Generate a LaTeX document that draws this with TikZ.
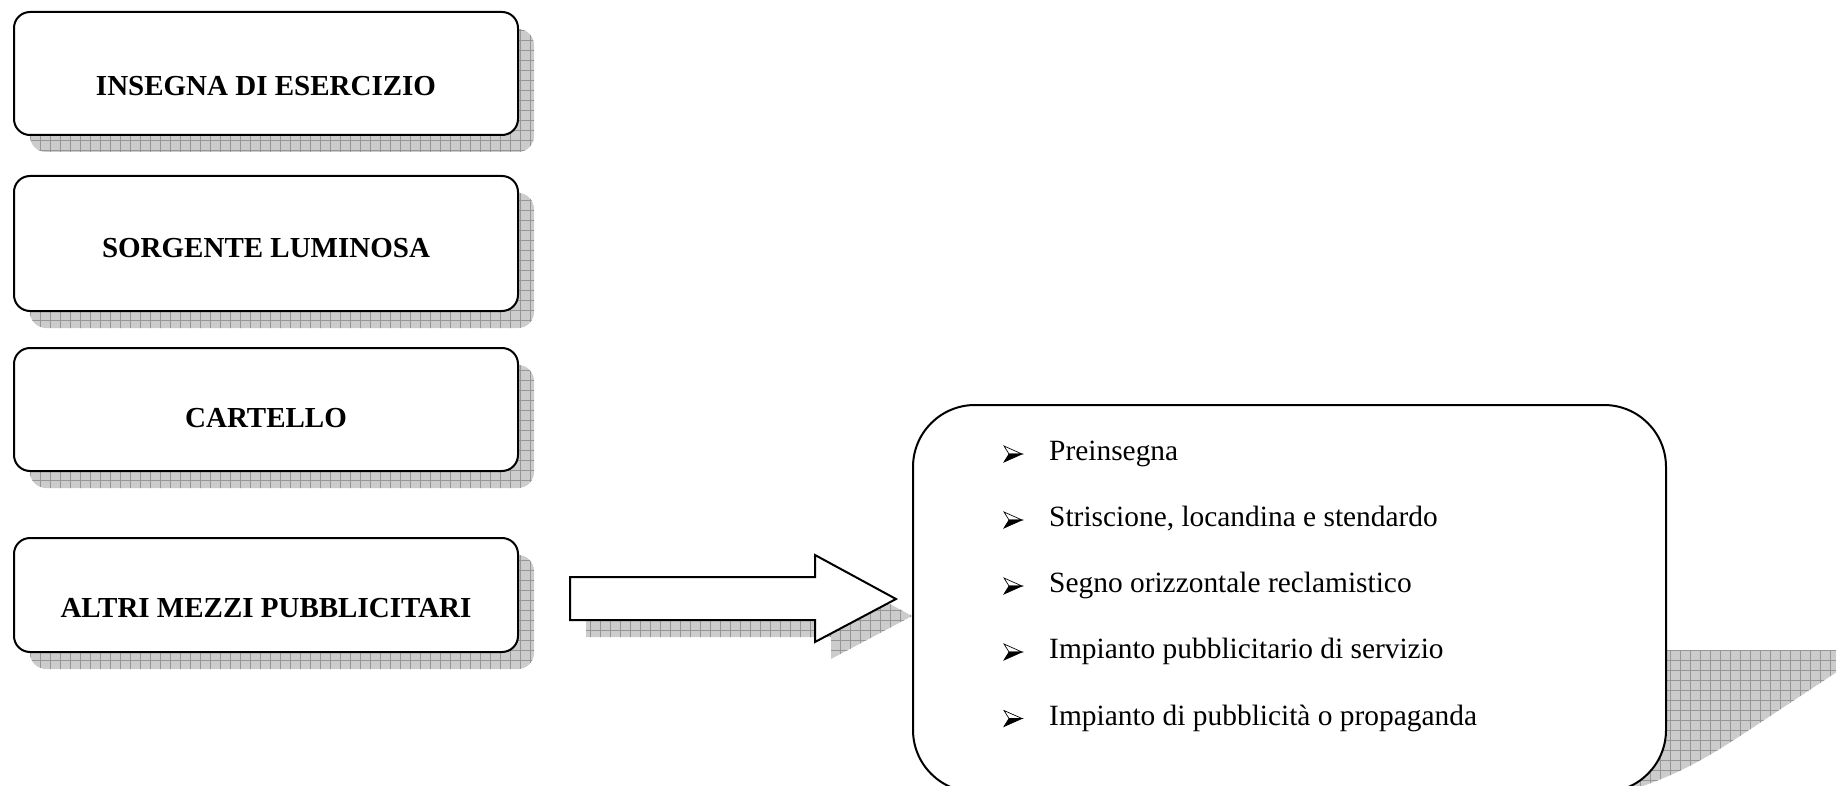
\documentclass[tikz,border=0pt]{standalone}
\usepackage{fontspec}
\setmainfont{Liberation Serif}
\definecolor{shd}{RGB}{204,204,204}
\definecolor{shdline}{RGB}{150,150,150}
\newcommand{\gshadow}[1]{%
  \begin{scope}
    \clip #1;
    \fill[shd] (0,800) rectangle (1900,0);
    \draw[shdline, line width=0.6pt, step=10pt] (0,800) grid (1900,0);
  \end{scope}}
\tikzset{
  leftbox/.style={draw, line width=2pt, fill=white, rounded corners=16pt,
    minimum width=504pt, inner sep=0pt},
  lbl/.style={font=\fontsize{29}{34}\selectfont\bfseries, inner sep=0pt},
  item/.style={font=\fontsize{29.4}{34}\selectfont, anchor=base west, inner sep=0pt},
  bul/.pic={
    \filldraw[line width=0.7pt, fill=white] (0,-8) -- (18,0) -- (5,0) -- cycle;
    \filldraw[line width=0.7pt, fill=black] (5,0) -- (18,0) -- (0,8) -- cycle;
  }
}
\begin{document}
\begin{tikzpicture}[x=1pt, y=-1pt]
\useasboundingbox (0,0) rectangle (1836,786);
\clip (0,0) rectangle (1836,786);

% shadows of left boxes
\gshadow{[rounded corners=16pt] (30,29) rectangle (534,152)}
\gshadow{[rounded corners=16pt] (30,193) rectangle (534,328)}
\gshadow{[rounded corners=16pt] (30,365) rectangle (534,488)}
\gshadow{[rounded corners=16pt] (30,555) rectangle (534,669)}

% left boxes
\node[leftbox, minimum height=123pt] (b1) at (266,73.5) {};
\node[leftbox, minimum height=135pt] (b2) at (266,243.5) {};
\node[leftbox, minimum height=123pt] (b3) at (266,409.5) {};
\node[leftbox, minimum height=114pt] (b4) at (266,595) {};
\node[lbl] (t1) at (266,86) {INSEGNA DI ESERCIZIO};
\node[lbl] (t2) at (266,248) {SORGENTE LUMINOSA};
\node[lbl] (t3) at (266,418) {CARTELLO};
\node[lbl] (t4) at (266,608) {ALTRI MEZZI PUBBLICITARI};

% block arrow
\gshadow{(586,594) -- (831,594) -- (831,572) -- (912,616) -- (831,659) -- (831,637) -- (586,637) -- cycle}
\draw[line width=2pt, fill=white, line join=miter]
  (570,577) -- (815,577) -- (815,555) -- (896,599) -- (815,642) -- (815,620) -- (570,620) -- cycle;

% right box shadow
\gshadow{(1600,650) -- (1870,650) -- (1740,736) .. controls (1700,762) and (1672,778) .. (1615,795) -- (1600,795) -- cycle}
% right box
\node[draw, line width=2pt, fill=white, rounded corners=62pt,
  minimum width=753pt, minimum height=387pt, inner sep=0pt] (rb) at (1289.5,598.5) {};

% items
\node[item] (i1) at (1049,460.5) {Preinsegna};
\node[item] (i2) at (1049,526.5) {Striscione, locandina e stendardo};
\node[item] (i3) at (1049,592.5) {Segno orizzontale reclamistico};
\node[item] (i4) at (1049,658.5) {Impianto pubblicitario di servizio};
\node[item] (i5) at (1049,725) {Impianto di pubblicità o propaganda};
\pic at (1004,454) {bul};
\pic at (1004,520) {bul};
\pic at (1004,586) {bul};
\pic at (1004,652) {bul};
\pic at (1004,718.5) {bul};
\end{tikzpicture}
\end{document}
